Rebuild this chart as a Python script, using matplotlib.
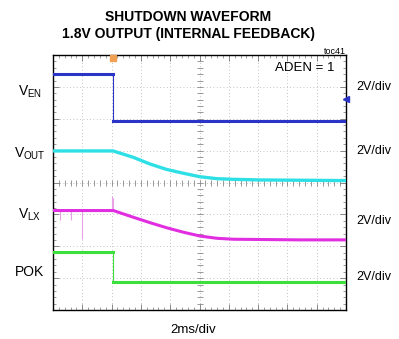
import matplotlib.pyplot as plt
import numpy as np

# scope traces, in divisions (x: 0..10 div at 2ms/div, y: 0..8 div)
t_edge = 2.04

ven_t = [0, t_edge, t_edge, 10]
ven_v = [7.40, 7.40, 5.94, 5.94]

vout_t = [0, 2.05, 2.74, 3.31, 3.88, 4.45, 5.02, 5.59, 6.14, 7.06, 10]
vout_v = [4.99, 4.99, 4.79, 4.58, 4.41, 4.29, 4.18, 4.12, 4.10, 4.08, 4.06]

vlx_t = [0, 2.06, 2.74, 3.31, 3.88, 4.45, 5.02, 5.59, 6.15, 7.29, 8.43, 10]
vlx_v = [3.12, 3.12, 2.91, 2.74, 2.58, 2.44, 2.32, 2.25, 2.22, 2.21, 2.20, 2.20]

# switching glitches on the LX trace
spike_t = [0.24, 0.60, 0.98, 2.01, 2.06]
spike_v = [2.82, 2.82, 2.22, 3.58, 3.50]

pok_t = [0, t_edge, t_edge, 10]
pok_v = [1.82, 1.82, 0.89, 0.89]

labels_left = ['V$_\\mathregular{EN}$', 'V$_\\mathregular{OUT}$', 'V$_\\mathregular{LX}$', 'POK']
labels_y = [6.85, 4.9, 3.0, 1.2]
scales = ['2V/div', '2V/div', '2V/div', '2V/div']
scales_y = [7.0, 5.0, 2.8, 1.05]

BLUE = '#2a35c8'
CYAN = '#2ee0e6'
MAG = '#e02ee0'
GREEN = '#3ce03c'

plt.rcParams['font.family'] = ['Liberation Sans', 'DejaVu Sans']

fig = plt.figure(figsize=(3.99, 3.39), dpi=100)
ax = fig.add_axes([53 / 399, 1 - 310 / 339, 293 / 399, 255 / 339])
ax.set_xlim(0, 10)
ax.set_ylim(0, 8)

# graticule
for x in range(1, 10):
    ax.axvline(x, color='#b0b0b0', lw=0.6, ls=(0, (1, 3)), zorder=1)
for y in range(1, 8):
    ax.axhline(y, color='#b0b0b0', lw=0.6, ls=(0, (1, 3)), zorder=1)
fine = np.arange(0, 10.01, 0.2)
ax.plot(fine, np.full(fine.size, 4), ls='none', marker='|', ms=4, mew=0.6, color='#888888', zorder=1)
finey = np.arange(0, 8.01, 0.2)
ax.plot(np.full(finey.size, 5), finey, ls='none', marker='_', ms=4, mew=0.6, color='#888888', zorder=1)

ax.set_xticks(range(11))
ax.set_yticks(range(9))
ax.set_xticks(fine, minor=True)
ax.set_yticks(finey, minor=True)
ax.tick_params(which='both', direction='in', top=True, right=True,
               labelbottom=False, labelleft=False, color='#777777')
ax.tick_params(which='major', length=4, width=0.6)
ax.tick_params(which='minor', length=2, width=0.5)
for s in ax.spines.values():
    s.set_linewidth(1.0)

# traces
ax.plot(ven_t, ven_v, color=BLUE, lw=0.8, zorder=3)
ax.plot(ven_t[:2], ven_v[:2], color=BLUE, lw=2.2, zorder=3)
ax.plot(ven_t[2:], ven_v[2:], color=BLUE, lw=2.2, zorder=3)

ax.plot(vout_t, vout_v, color=CYAN, lw=2.4, zorder=3)

ax.vlines(spike_t, vlx_v[0], spike_v, color='#e8a0e8', lw=0.8, zorder=2)
ax.plot(vlx_t, vlx_v, color=MAG, lw=2.2, zorder=3)

ax.plot(pok_t, pok_v, color=GREEN, lw=0.8, zorder=3)
ax.plot(pok_t[:2], pok_v[:2], color=GREEN, lw=2.2, zorder=3)
ax.plot(pok_t[2:], pok_v[2:], color=GREEN, lw=2.2, zorder=3)

# trigger markers
ax.plot(t_edge, 7.92, marker='s', ms=4, color='#f0a050', clip_on=False, zorder=4)
ax.plot(10, 6.62, marker='<', ms=4, color=BLUE, clip_on=False, zorder=4)

ax.text(9.6, 7.6, 'ADEN = 1', fontsize=9.5, ha='right', va='center')

for lab, y in zip(labels_left, labels_y):
    ax.text(-0.8, y, lab, fontsize=10, ha='center', va='center', clip_on=False)
for lab, y in zip(scales, scales_y):
    ax.text(10.35, y, lab, fontsize=9, ha='left', va='center', clip_on=False)

fig.text(188 / 399, 1 - 17 / 339, 'SHUTDOWN WAVEFORM', fontsize=10, fontweight='bold', ha='center', va='center')
fig.text(188 / 399, 1 - 34 / 339, '1.8V OUTPUT (INTERNAL FEEDBACK)', fontsize=10, fontweight='bold', ha='center', va='center')
fig.text(346 / 399, 1 - 51 / 339, 'toc41', fontsize=6.5, ha='right', va='center')
fig.text(193 / 399, 1 - 330 / 339, '2ms/div', fontsize=9.5, ha='center', va='center')

fig.savefig('out.png', dpi=100)
